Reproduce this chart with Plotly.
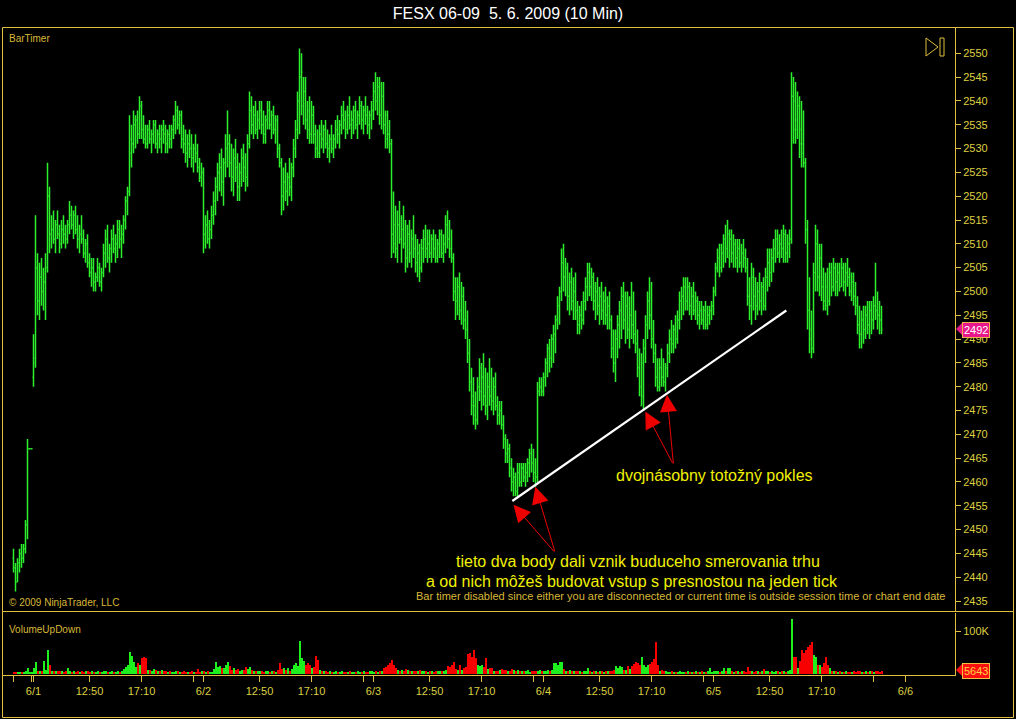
import plotly.graph_objects as go

# ---------------- data ----------------
title_text = "FESX 06-09\u00a0\u00a05. 6. 2009 (10 Min)"

first_bar = -10  # bar index of first bar (6/1 session start = 0)

opens = [
    2444, 2442, 2439, 2443, 2445, 2444, 2446, 2451, 2467, 2467,
    # 6/1
    2482, 2486, 2505, 2498, 2503, 2500, 2502, 2505, 2520, 2512,
    2513, 2511, 2514, 2512, 2510, 2513, 2512, 2511, 2514, 2516,
    2514, 2516, 2513, 2511, 2512, 2511, 2508, 2510, 2506, 2504,
    2505, 2502, 2503, 2505, 2502, 2504, 2508, 2511, 2507, 2509,
    2511, 2509, 2510, 2513, 2511, 2512, 2515, 2519, 2521, 2529,
    2531, 2535, 2536, 2533, 2539, 2534, 2532, 2531, 2534, 2532,
    2533, 2535, 2531, 2533, 2532, 2534, 2533, 2531, 2533, 2532,
    2534, 2536, 2538, 2535, 2537, 2532, 2531, 2529, 2531, 2530,
    2528, 2530, 2529, 2526, 2524,
    # 6/2
    2525, 2512, 2514, 2511, 2513, 2516, 2519, 2522, 2525, 2526,
    2523, 2527, 2530, 2531, 2527, 2524, 2528, 2526, 2522, 2525,
    2528, 2526, 2524, 2531, 2538, 2535, 2537, 2534, 2536, 2538,
    2535, 2533, 2536, 2538, 2535, 2537, 2534, 2536, 2530, 2527,
    2520, 2523, 2521, 2524, 2522, 2526, 2530, 2534, 2540, 2545,
    2539, 2542, 2536, 2538, 2533, 2537, 2533, 2530, 2529, 2533,
    2532, 2534, 2531, 2530, 2532, 2530, 2532, 2534, 2533, 2535,
    2537, 2536, 2534, 2537, 2535, 2536, 2538, 2535, 2537, 2539,
    2536, 2538, 2537, 2535, 2537,
    # 6/3
    2538, 2542, 2540, 2543, 2537, 2541, 2535, 2537, 2533, 2531,
    2512, 2514, 2509, 2514, 2511, 2513, 2510, 2507, 2512, 2508,
    2511, 2509, 2506, 2508, 2505, 2509, 2511, 2509, 2510, 2508,
    2511, 2509, 2507, 2510, 2512, 2508, 2510, 2514, 2511, 2509,
    2507, 2500, 2498, 2501, 2496, 2499, 2494, 2492, 2487, 2481,
    2478, 2476, 2473, 2480, 2479, 2482, 2478, 2476, 2480, 2478,
    2477, 2480, 2476, 2474, 2475, 2472, 2469, 2466, 2467, 2463,
    2460, 2461, 2458, 2462, 2460, 2463, 2461, 2462, 2464, 2466,
    2464, 2462, 2461, 2479, 2480,
    # 6/4
    2479, 2482, 2485, 2488, 2486, 2490, 2491, 2494, 2497, 2500,
    2506, 2503, 2505, 2499, 2502, 2498, 2500, 2496, 2493, 2495,
    2494, 2498, 2501, 2504, 2501, 2503, 2498, 2500, 2497, 2499,
    2496, 2498, 2495, 2497, 2494, 2488, 2485, 2490, 2493, 2496,
    2499, 2494, 2497, 2492, 2495, 2493, 2491, 2489, 2484, 2476,
    2478, 2488, 2493, 2498, 2495, 2490, 2487, 2482, 2480, 2484,
    2482, 2481, 2484, 2487, 2490, 2489, 2492, 2490, 2494, 2498,
    2499, 2501, 2498, 2501, 2497, 2499, 2496, 2498, 2495, 2496,
    2494, 2496, 2493, 2495, 2496,
    # 6/5
    2497, 2500, 2505, 2507, 2505, 2508, 2511, 2509, 2507, 2511,
    2508, 2510, 2507, 2509, 2506, 2508, 2507, 2505, 2499, 2497,
    2503, 2499, 2497, 2500, 2498, 2501, 2497, 2503, 2506, 2504,
    2507, 2509, 2511, 2508, 2510, 2509, 2512, 2508, 2510, 2511,
    2541, 2540, 2534, 2539, 2534, 2531, 2527, 2513, 2496, 2492,
    2488, 2504, 2510, 2503, 2507, 2501, 2498, 2501, 2498, 2504,
    2501, 2505, 2502, 2504, 2501, 2505, 2502, 2504, 2503, 2500,
    2502, 2499, 2497, 2493, 2491, 2494, 2492, 2495, 2493, 2496,
    2494, 2497, 2496, 2495, 2494,
]

highs = [
    2446, 2443, 2444, 2446, 2447, 2447, 2452, 2469, 2467, 2467,
    # 6/1
    2491, 2516, 2508, 2506, 2507, 2505, 2508, 2527, 2522, 2516,
    2517, 2515, 2517, 2514, 2515, 2516, 2514, 2515, 2519, 2518,
    2517, 2518, 2516, 2514, 2516, 2513, 2511, 2512, 2508, 2507,
    2507, 2504, 2507, 2506, 2505, 2510, 2513, 2514, 2510, 2513,
    2514, 2512, 2515, 2515, 2514, 2516, 2520, 2522, 2537, 2535,
    2538, 2537, 2538, 2541, 2540, 2537, 2535, 2535, 2536, 2534,
    2536, 2536, 2534, 2535, 2535, 2536, 2535, 2534, 2535, 2535,
    2537, 2540, 2539, 2538, 2538, 2535, 2534, 2533, 2534, 2533,
    2531, 2533, 2531, 2528, 2527,
    # 6/2
    2526, 2516, 2517, 2515, 2518, 2521, 2524, 2527, 2529, 2530,
    2528, 2533, 2538, 2533, 2531, 2530, 2532, 2529, 2527, 2530,
    2531, 2529, 2533, 2542, 2541, 2539, 2540, 2538, 2540, 2540,
    2538, 2537, 2540, 2540, 2538, 2539, 2537, 2537, 2531, 2528,
    2526, 2527, 2525, 2528, 2527, 2532, 2536, 2542, 2551, 2550,
    2545, 2545, 2540, 2541, 2540, 2539, 2535, 2534, 2535, 2536,
    2535, 2536, 2534, 2533, 2535, 2533, 2536, 2537, 2536, 2539,
    2540, 2538, 2539, 2541, 2538, 2539, 2540, 2538, 2541, 2540,
    2539, 2541, 2539, 2538, 2540,
    # 6/3
    2544, 2546, 2545, 2545, 2544, 2544, 2538, 2538, 2536, 2532,
    2521, 2518, 2517, 2519, 2516, 2518, 2515, 2514, 2515, 2513,
    2516, 2512, 2511, 2510, 2511, 2513, 2514, 2513, 2513, 2512,
    2513, 2512, 2511, 2513, 2513, 2512, 2516, 2517, 2515, 2513,
    2508, 2503, 2503, 2504, 2502, 2501, 2498, 2496, 2490, 2484,
    2482, 2479, 2482, 2486, 2485, 2487, 2484, 2483, 2486, 2484,
    2482, 2483, 2478, 2477, 2477, 2474, 2470, 2469, 2468, 2465,
    2463, 2462, 2464, 2464, 2464, 2464, 2464, 2465, 2467, 2468,
    2467, 2465, 2481, 2482, 2482,
    # 6/4
    2483, 2486, 2489, 2490, 2491, 2493, 2495, 2499, 2501, 2509,
    2510, 2507, 2506, 2504, 2505, 2503, 2504, 2498, 2497, 2498,
    2500, 2503, 2506, 2506, 2505, 2504, 2502, 2503, 2501, 2502,
    2500, 2501, 2499, 2500, 2495, 2492, 2492, 2495, 2498, 2501,
    2502, 2500, 2500, 2499, 2502, 2500, 2496, 2492, 2488, 2487,
    2490, 2495, 2500, 2503, 2502, 2494, 2489, 2486, 2486, 2488,
    2486, 2485, 2489, 2492, 2494, 2493, 2495, 2496, 2500, 2501,
    2503, 2503, 2503, 2502, 2501, 2502, 2500, 2499, 2498, 2498,
    2497, 2498, 2497, 2497, 2498,
    # 6/5
    2501, 2506, 2509, 2510, 2510, 2512, 2514, 2515, 2513, 2513,
    2512, 2511, 2511, 2511, 2510, 2511, 2509, 2507, 2503, 2506,
    2505, 2503, 2502, 2504, 2502, 2503, 2505, 2509, 2509, 2509,
    2511, 2513, 2513, 2512, 2513, 2514, 2513, 2512, 2513, 2546,
    2545, 2544, 2542, 2541, 2540, 2538, 2528, 2515, 2503, 2496,
    2506, 2514, 2513, 2510, 2510, 2505, 2504, 2505, 2506, 2506,
    2507, 2506, 2506, 2506, 2507, 2506, 2506, 2507, 2505, 2504,
    2504, 2502, 2499, 2497, 2496, 2497, 2497, 2498, 2498, 2498,
    2499, 2506, 2500, 2498, 2497,
]

lows = [
    2441, 2437, 2439, 2441, 2442, 2443, 2445, 2448, 2467, 2467,
    # 6/1
    2480, 2484, 2495, 2494, 2497, 2496, 2494, 2504, 2508, 2509,
    2510, 2508, 2511, 2508, 2509, 2510, 2509, 2510, 2512, 2513,
    2511, 2512, 2509, 2508, 2510, 2507, 2506, 2505, 2503, 2501,
    2500, 2500, 2502, 2501, 2500, 2503, 2505, 2506, 2504, 2506,
    2508, 2506, 2507, 2509, 2507, 2510, 2513, 2516, 2520, 2526,
    2529, 2530, 2531, 2532, 2532, 2531, 2530, 2530, 2531, 2529,
    2531, 2530, 2529, 2530, 2529, 2531, 2529, 2529, 2530, 2530,
    2532, 2533, 2534, 2533, 2530, 2529, 2527, 2526, 2528, 2526,
    2525, 2527, 2525, 2523, 2522,
    # 6/2
    2508, 2509, 2510, 2509, 2511, 2514, 2516, 2519, 2521, 2520,
    2518, 2524, 2526, 2524, 2521, 2520, 2523, 2519, 2519, 2522,
    2523, 2521, 2522, 2530, 2533, 2532, 2533, 2532, 2534, 2533,
    2531, 2531, 2534, 2534, 2532, 2533, 2531, 2528, 2526, 2516,
    2517, 2519, 2518, 2520, 2519, 2524, 2528, 2532, 2533, 2537,
    2535, 2534, 2532, 2531, 2531, 2531, 2528, 2528, 2528, 2530,
    2529, 2530, 2528, 2527, 2529, 2528, 2530, 2531, 2530, 2533,
    2534, 2532, 2533, 2534, 2532, 2533, 2534, 2532, 2535, 2534,
    2533, 2535, 2533, 2532, 2534,
    # 6/3
    2536, 2538, 2537, 2535, 2534, 2533, 2530, 2530, 2529, 2507,
    2508, 2507, 2506, 2510, 2506, 2509, 2504, 2505, 2506, 2505,
    2507, 2504, 2503, 2502, 2504, 2506, 2507, 2506, 2507, 2506,
    2507, 2506, 2506, 2507, 2507, 2506, 2508, 2509, 2507, 2506,
    2498, 2494, 2495, 2494, 2493, 2492, 2490, 2485, 2479, 2474,
    2472, 2471, 2472, 2477, 2475, 2476, 2474, 2473, 2476, 2475,
    2474, 2475, 2472, 2472, 2471, 2467, 2464, 2464, 2461, 2458,
    2457, 2457, 2457, 2459, 2459, 2460, 2459, 2460, 2461, 2462,
    2460, 2459, 2460, 2478, 2478,
    # 6/4
    2478, 2480, 2482, 2483, 2484, 2485, 2487, 2492, 2493, 2498,
    2500, 2499, 2496, 2495, 2496, 2494, 2494, 2491, 2491, 2492,
    2493, 2496, 2498, 2499, 2498, 2496, 2494, 2495, 2493, 2494,
    2493, 2493, 2492, 2492, 2486, 2483, 2481, 2486, 2488, 2490,
    2492, 2489, 2490, 2488, 2490, 2489, 2487, 2482, 2478, 2476,
    2475, 2485, 2490, 2492, 2488, 2485, 2480, 2479, 2479, 2480,
    2480, 2479, 2482, 2485, 2487, 2487, 2488, 2489, 2492, 2494,
    2495, 2496, 2496, 2495, 2494, 2495, 2494, 2493, 2492, 2493,
    2492, 2492, 2492, 2493, 2494,
    # 6/5
    2495, 2499, 2504, 2503, 2504, 2505, 2506, 2507, 2505, 2506,
    2505, 2505, 2504, 2505, 2504, 2505, 2504, 2497, 2494, 2493,
    2496, 2494, 2495, 2496, 2495, 2496, 2496, 2500, 2501, 2502,
    2504, 2506, 2507, 2506, 2507, 2506, 2506, 2506, 2507, 2510,
    2531, 2531, 2532, 2528, 2526, 2526, 2510, 2492, 2487, 2486,
    2487, 2500, 2500, 2499, 2498, 2496, 2496, 2495, 2497, 2499,
    2500, 2499, 2499, 2500, 2501, 2500, 2499, 2501, 2499, 2498,
    2497, 2495, 2491, 2488, 2488, 2489, 2490, 2491, 2490, 2491,
    2492, 2494, 2492, 2491, 2491,
]

closes = [
    2442, 2439, 2443, 2445, 2444, 2446, 2451, 2467, 2467, 2467,
    # 6/1
    2485, 2505, 2498, 2503, 2500, 2502, 2505, 2520, 2512, 2513,
    2511, 2514, 2512, 2510, 2513, 2512, 2511, 2514, 2516, 2514,
    2516, 2513, 2511, 2512, 2511, 2508, 2510, 2506, 2504, 2505,
    2502, 2503, 2505, 2502, 2504, 2508, 2511, 2507, 2509, 2511,
    2509, 2510, 2513, 2511, 2512, 2515, 2519, 2521, 2532, 2531,
    2535, 2536, 2533, 2539, 2534, 2532, 2531, 2534, 2532, 2533,
    2535, 2531, 2533, 2532, 2534, 2533, 2531, 2533, 2532, 2534,
    2536, 2538, 2535, 2537, 2532, 2531, 2529, 2531, 2530, 2528,
    2530, 2529, 2526, 2524, 2525,
    # 6/2
    2512, 2514, 2511, 2513, 2516, 2519, 2522, 2525, 2526, 2523,
    2527, 2530, 2531, 2527, 2524, 2528, 2526, 2522, 2525, 2528,
    2526, 2524, 2531, 2538, 2535, 2537, 2534, 2536, 2538, 2535,
    2533, 2536, 2538, 2535, 2537, 2534, 2536, 2530, 2527, 2520,
    2523, 2521, 2524, 2522, 2526, 2530, 2534, 2540, 2545, 2546,
    2542, 2536, 2534, 2533, 2537, 2533, 2530, 2529, 2533, 2532,
    2534, 2531, 2530, 2532, 2530, 2532, 2534, 2533, 2535, 2537,
    2536, 2534, 2537, 2535, 2536, 2538, 2535, 2537, 2539, 2536,
    2538, 2537, 2535, 2537, 2538,
    # 6/3
    2542, 2540, 2543, 2537, 2541, 2535, 2532, 2533, 2531, 2512,
    2510, 2509, 2514, 2511, 2513, 2510, 2507, 2512, 2508, 2511,
    2509, 2506, 2508, 2505, 2509, 2511, 2509, 2510, 2508, 2511,
    2509, 2507, 2510, 2512, 2508, 2510, 2514, 2511, 2509, 2507,
    2500, 2498, 2501, 2496, 2499, 2494, 2492, 2487, 2481, 2476,
    2474, 2473, 2480, 2484, 2482, 2478, 2476, 2480, 2478, 2477,
    2480, 2476, 2474, 2475, 2472, 2469, 2466, 2467, 2463, 2460,
    2461, 2458, 2462, 2460, 2463, 2461, 2462, 2464, 2466, 2464,
    2462, 2461, 2479, 2480, 2479,
    # 6/4
    2482, 2485, 2488, 2486, 2490, 2491, 2494, 2497, 2500, 2506,
    2503, 2505, 2499, 2502, 2498, 2500, 2496, 2493, 2495, 2494,
    2498, 2501, 2504, 2501, 2503, 2498, 2500, 2497, 2499, 2496,
    2498, 2495, 2497, 2494, 2488, 2485, 2490, 2493, 2496, 2499,
    2494, 2497, 2492, 2495, 2493, 2491, 2489, 2484, 2480, 2485,
    2488, 2493, 2498, 2495, 2490, 2487, 2482, 2480, 2484, 2482,
    2481, 2484, 2487, 2490, 2489, 2492, 2490, 2494, 2498, 2499,
    2501, 2498, 2501, 2497, 2499, 2496, 2498, 2495, 2496, 2494,
    2496, 2493, 2495, 2496, 2497,
    # 6/5
    2500, 2505, 2507, 2505, 2508, 2511, 2509, 2512, 2511, 2508,
    2510, 2507, 2509, 2506, 2508, 2507, 2505, 2499, 2497, 2503,
    2499, 2497, 2500, 2498, 2501, 2497, 2503, 2506, 2504, 2507,
    2509, 2511, 2508, 2510, 2509, 2512, 2508, 2510, 2511, 2541,
    2534, 2536, 2539, 2531, 2529, 2527, 2513, 2496, 2490, 2488,
    2504, 2510, 2503, 2507, 2501, 2498, 2497, 2498, 2504, 2501,
    2505, 2502, 2504, 2501, 2505, 2502, 2504, 2503, 2500, 2502,
    2499, 2497, 2493, 2491, 2494, 2492, 2495, 2493, 2496, 2494,
    2497, 2496, 2495, 2494, 2492,
]

volumes = [
    3000, 2500, 3500, 2500, 4000, 3000, 5000, 12000, 2000, 2000,
    # 6/1
    14000, 28000, 6000, 5000, 7000, 30000, 9000, 57000, 20000, 7000,
    6000, 5000, 7000, 5000, 6000, 4000, 5000, 12000, 5000, 4000,
    5000, 4000, 6000, 3000, 5000, 4000, 6000, 5000, 4000, 5000,
    4000, 3000, 5000, 4000, 3000, 6000, 5000, 4000, 3000, 5000,
    4000, 3000, 5000, 4000, 6000, 10000, 15000, 21000, 51000, 41000,
    28000, 15000, 26000, 21000, 36000, 40000, 38000, 8000, 9000, 7000,
    10000, 8000, 7000, 6000, 8000, 5000, 6000, 4000, 5000, 3000,
    4000, 6000, 5000, 4000, 3000, 5000, 4000, 3000, 4000, 5000,
    4000, 3000, 10000, 4000, 5000,
    # 6/2
    6000, 4000, 5000, 3000, 4000, 10000, 28000, 15000, 18000, 12000,
    14000, 20000, 28000, 19000, 9000, 12000, 8000, 10000, 7000, 9000,
    8000, 16000, 10000, 16000, 8000, 6000, 7000, 5000, 6000, 5000,
    4000, 6000, 5000, 4000, 6000, 5000, 4000, 9000, 25000, 10000,
    14000, 8000, 14000, 7000, 10000, 21000, 25000, 18000, 77000, 36000,
    30000, 20000, 25000, 20000, 12000, 15000, 41000, 33000, 8000, 6000,
    5000, 7000, 4000, 5000, 3000, 4000, 5000, 3000, 4000, 5000,
    3000, 4000, 3000, 5000, 4000, 3000, 4000, 5000, 3000, 4000,
    5000, 3000, 4000, 6000, 5000,
    # 6/3
    4000, 5000, 3000, 6000, 5000, 12000, 15000, 21000, 26000, 33000,
    21000, 14000, 8000, 7000, 9000, 6000, 10000, 8000, 6000, 5000,
    7000, 6000, 5000, 8000, 6000, 5000, 7000, 4000, 6000, 5000,
    4000, 6000, 5000, 7000, 5000, 6000, 9000, 18000, 15000, 21000,
    27000, 10000, 8000, 20000, 9000, 12000, 15000, 46000, 50000, 40000,
    55000, 36000, 20000, 18000, 20000, 15000, 36000, 10000, 14000, 12000,
    6000, 5000, 7000, 8000, 10000, 8000, 9000, 6000, 7000, 10000,
    8000, 6000, 9000, 5000, 7000, 6000, 5000, 8000, 4000, 6000,
    5000, 7000, 6000, 8000, 5000,
    # 6/4
    6000, 7000, 9000, 5000, 8000, 25000, 25000, 20000, 28000, 27000,
    10000, 7000, 5000, 8000, 6000, 5000, 7000, 5000, 6000, 4000,
    5000, 6000, 12000, 5000, 4000, 6000, 5000, 4000, 5000, 6000,
    4000, 5000, 6000, 5000, 7000, 8000, 17000, 14000, 17000, 15000,
    9000, 8000, 17000, 10000, 18000, 22000, 27000, 24000, 20000, 39000,
    20000, 15000, 21000, 22000, 28000, 35000, 74000, 21000, 6000, 8000,
    7000, 5000, 4000, 3000, 5000, 4000, 3000, 4000, 5000, 3000,
    4000, 3000, 5000, 4000, 3000, 4000, 5000, 3000, 4000, 5000,
    3000, 4000, 5000, 12000, 4000,
    # 6/5
    5000, 6000, 5000, 4000, 6000, 12000, 6000, 14000, 13000, 5000,
    4000, 6000, 5000, 4000, 5000, 6000, 4000, 16000, 6000, 5000,
    4000, 5000, 6000, 4000, 5000, 10000, 6000, 5000, 4000, 5000,
    4000, 6000, 5000, 4000, 5000, 6000, 4000, 5000, 8000, 130000,
    40000, 40000, 14000, 30000, 55000, 50000, 57000, 62000, 67000, 74000,
    44000, 40000, 21000, 20000, 15000, 25000, 39000, 21000, 12000, 6000,
    5000, 6000, 4000, 5000, 3000, 4000, 5000, 4000, 3000, 4000,
    5000, 4000, 6000, 5000, 4000, 3000, 5000, 4000, 6000, 5000,
    4000, 6000, 5000, 4000, 5643,
]

# x-axis ticks (bar index) and their labels
tick_pos = [-10, -1, 0, 28, 54, 80, 85, 113, 139, 165, 170, 198, 224, 250,
            255, 283, 309, 335, 340, 368, 394, 420, 436]
tick_text = ["", "", "6/1", "12:50", "17:10", "", "6/2", "12:50", "17:10", "",
             "6/3", "12:50", "17:10", "", "6/4", "12:50", "17:10", "", "6/5",
             "12:50", "17:10", "", "6/6"]

price_ticks = list(range(2435, 2551, 5))

# drawn trend line (bar index, price)
trend_x = [239.4, 376.4]
trend_y = [2456, 2496]

# annotation arrows: (tip bar, tip price, tail bar, tail price)
arrows = [
    (240.0, 2455.2, 260.9, 2445.1),
    (250.9, 2459.0, 260.9, 2445.1),
    (305.9, 2474.8, 320.0, 2463.6),
    (316.7, 2478.3, 320.0, 2463.6),
]

notes = [
    ("tieto dva body dali vznik buduceho smerovania trhu", 302.3, 2443.4),
    ("a od nich môžeš budovat vstup s presnostou na jeden tick", 299.3, 2439.2),
    ("dvojnásobny totožný pokles", 340.3, 2461.3),
]

# ---------------- style ----------------
assert len(opens) == len(highs) == len(lows) == len(closes) == len(volumes)
bar_pos = [first_bar + k for k in range(len(closes))]

BAR_GREEN = "#2cf02c"
VOL_UP = "#1ef01e"
VOL_DN = "#f80000"
AXIS = "#e0c040"
TICK_TXT = "#dcd040"
LABEL_TXT = "#d8b838"
NOTE_TXT = "#f0f000"
FONT = "Liberation Sans, Arial, sans-serif"
NARROW = "Liberation Sans Narrow, Arial Narrow, Liberation Sans, sans-serif"

W, H = 1016, 719
ML, MR, MT, MB = 3, 61, 27, 44
PW, PH = W - ML - MR, H - MT - MB


def px(xp, yp):
    """pixel -> paper coords"""
    return (xp - ML) / PW, (H - MB - yp) / PH


main_bottom = px(0, 611.5)[1]
vol_top = px(0, 612.5)[1]

vol_colors = [VOL_UP if c >= o else VOL_DN for o, c in zip(opens, closes)]

fig = go.Figure()
fig.add_trace(go.Ohlc(
    x=bar_pos, open=opens, high=highs, low=lows, close=closes,
    increasing=dict(line=dict(color=BAR_GREEN, width=1.5)),
    decreasing=dict(line=dict(color=BAR_GREEN, width=1.5)),
    tickwidth=0.5, xaxis="x", yaxis="y", hoverinfo="skip", showlegend=False))
fig.add_trace(go.Bar(
    x=bar_pos, y=volumes, marker=dict(color=vol_colors, line=dict(width=0)),
    width=1.0, xaxis="x", yaxis="y2", hoverinfo="skip", showlegend=False))
fig.add_trace(go.Scatter(
    x=trend_x, y=trend_y, mode="lines", line=dict(color="white", width=2.2),
    xaxis="x", yaxis="y", hoverinfo="skip", showlegend=False))

annotations = []
for tx, ty, ax_, ay_ in arrows:
    annotations.append(dict(
        x=tx, y=ty, ax=ax_, ay=ay_, xref="x", yref="y", axref="x", ayref="y",
        text="", showarrow=True, arrowhead=2, arrowsize=3.4, arrowwidth=1,
        arrowcolor="#ee0000", standoff=0, startstandoff=0))
for txt, nx, ny in notes:
    annotations.append(dict(
        x=nx, y=ny, xref="x", yref="y", text=txt, showarrow=False,
        font=dict(family=FONT, size=16, color=NOTE_TXT)))


def label(text, xp, yp, anchor="left", size=10, family=FONT, color=LABEL_TXT):
    x, y = px(xp, yp)
    annotations.append(dict(
        x=x, y=y, xref="paper", yref="paper", text=text, showarrow=False,
        xanchor=anchor, yanchor="middle", font=dict(family=family, size=size, color=color)))


label("BarTimer", 7, 39)
label("\u00a9 2009 NinjaTrader, LLC", 7, 602)
label("VolumeUpDown", 7, 629)
label("Bar timer disabled since either you are disconnected or current time is "
      "outside session time or chart end date", 948, 596, anchor="right", size=11,
      family=NARROW)

# last price / last volume markers
annotations.append(dict(
    x=1, y=closes[-1], xref="paper", yref="y", xshift=7, xanchor="left",
    text=str(closes[-1]), showarrow=False, bgcolor="#e8168c",
    bordercolor="#f0b050", borderwidth=1, borderpad=1,
    font=dict(family=FONT, size=11, color="white")))
annotations.append(dict(
    x=1, y=volumes[-1], xref="paper", yref="y2", xshift=7, xanchor="left",
    text=str(volumes[-1]), showarrow=False, bgcolor="#ff1010",
    bordercolor="#f0c040", borderwidth=1, borderpad=1,
    font=dict(family=FONT, size=11, color="#ffd040")))

shapes = []


def line_px(x0, y0, x1, y1, color=AXIS, width=1):
    a, b = px(x0, y0)
    c, d = px(x1, y1)
    shapes.append(dict(type="line", xref="paper", yref="paper", x0=a, y0=b, x1=c, y1=d,
                       line=dict(color=color, width=width)))


# outer frame + panel divider
line_px(2.5, 27.5, 1013.5, 27.5)
line_px(2.5, 27.5, 2.5, 717.5)
line_px(1013.5, 27.5, 1013.5, 717.5)
line_px(2.5, 717.5, 1013.5, 717.5)
line_px(2.5, 611.5, 1013.5, 611.5)


# pointer triangles for the markers
def tri(xa, ya, xb, yb1, yb2, color):
    p1 = px(xa, ya); p2 = px(xb, yb1); p3 = px(xb, yb2)
    shapes.append(dict(type="path", xref="paper", yref="paper",
                       path=f"M{p1[0]},{p1[1]} L{p2[0]},{p2[1]} L{p3[0]},{p3[1]} Z",
                       fillcolor=color, line=dict(width=0)))


tri(956, 329, 963, 322, 336, "#e8168c")
tri(956, 670, 963, 663, 677, "#ff1010")

# play/stop icon top right
a = px(926, 38); b = px(938, 47); c = px(926, 56)
shapes.append(dict(type="path", xref="paper", yref="paper",
                   path=f"M{a[0]},{a[1]} L{b[0]},{b[1]} L{c[0]},{c[1]} Z",
                   line=dict(color=AXIS, width=1)))
r0 = px(940, 38); r1 = px(944, 56)
shapes.append(dict(type="rect", xref="paper", yref="paper", x0=r0[0], y0=r0[1],
                   x1=r1[0], y1=r1[1], line=dict(color=AXIS, width=1)))

# axis ranges from pixel calibration: 2550 @ y=53.3, 4.763 px per point
top_price = 2550 + (53.3 - MT) / 4.763
bot_price = 2550 - (611.5 - 53.3) / 4.763
vol_per_px = 100000 / 42.0
vol_top_val = (673 - 612.5) * vol_per_px
vol_bot_val = -(675 - 673) * vol_per_px
# 2 px per bar, bar 0 centred on pixel 33.5
x_lo = (ML - 33.5) / 2.0
x_hi = x_lo + PW / 2.0

fig.update_layout(
    width=W, height=H, margin=dict(l=ML, r=MR, t=MT, b=MB, pad=0),
    paper_bgcolor="black", plot_bgcolor="black", showlegend=False,
    title=dict(text=title_text, x=0.5, xref="container", xanchor="center",
               y=1 - 13 / H, yref="container", yanchor="middle",
               font=dict(family=NARROW, size=16, color="white")),
    xaxis=dict(domain=[0, 1], anchor="y2", range=[x_lo, x_hi],
               tickmode="array", tickvals=tick_pos, ticktext=tick_text,
               ticks="outside", ticklen=6, tickcolor=AXIS, tickwidth=1,
               tickfont=dict(family=FONT, size=11, color=TICK_TXT),
               showline=True, linecolor=AXIS, linewidth=1,
               showgrid=False, zeroline=False, rangeslider=dict(visible=False)),
    yaxis=dict(domain=[main_bottom, 1], anchor="x", side="right",
               range=[bot_price, top_price], tickmode="array", tickvals=price_ticks,
               ticks="outside", ticklen=5, tickcolor=AXIS, tickwidth=1,
               tickfont=dict(family=FONT, size=11, color=TICK_TXT),
               showline=True, linecolor=AXIS, linewidth=1,
               showgrid=False, zeroline=False),
    yaxis2=dict(domain=[0, vol_top], anchor="x", side="right",
                range=[vol_bot_val, vol_top_val], tickmode="array",
                tickvals=[100000], ticktext=["100K"],
                ticks="outside", ticklen=5, tickcolor=AXIS, tickwidth=1,
                tickfont=dict(family=FONT, size=11, color=TICK_TXT),
                showline=True, linecolor=AXIS, linewidth=1,
                showgrid=False, zeroline=False),
    bargap=0,
    annotations=annotations, shapes=shapes,
)

fig.write_html(
    "out.html",
    config={"displayModeBar": False},
    post_script="document.body.style.margin='0';document.body.style.padding='0';"
                "document.body.style.background='black';",
)
